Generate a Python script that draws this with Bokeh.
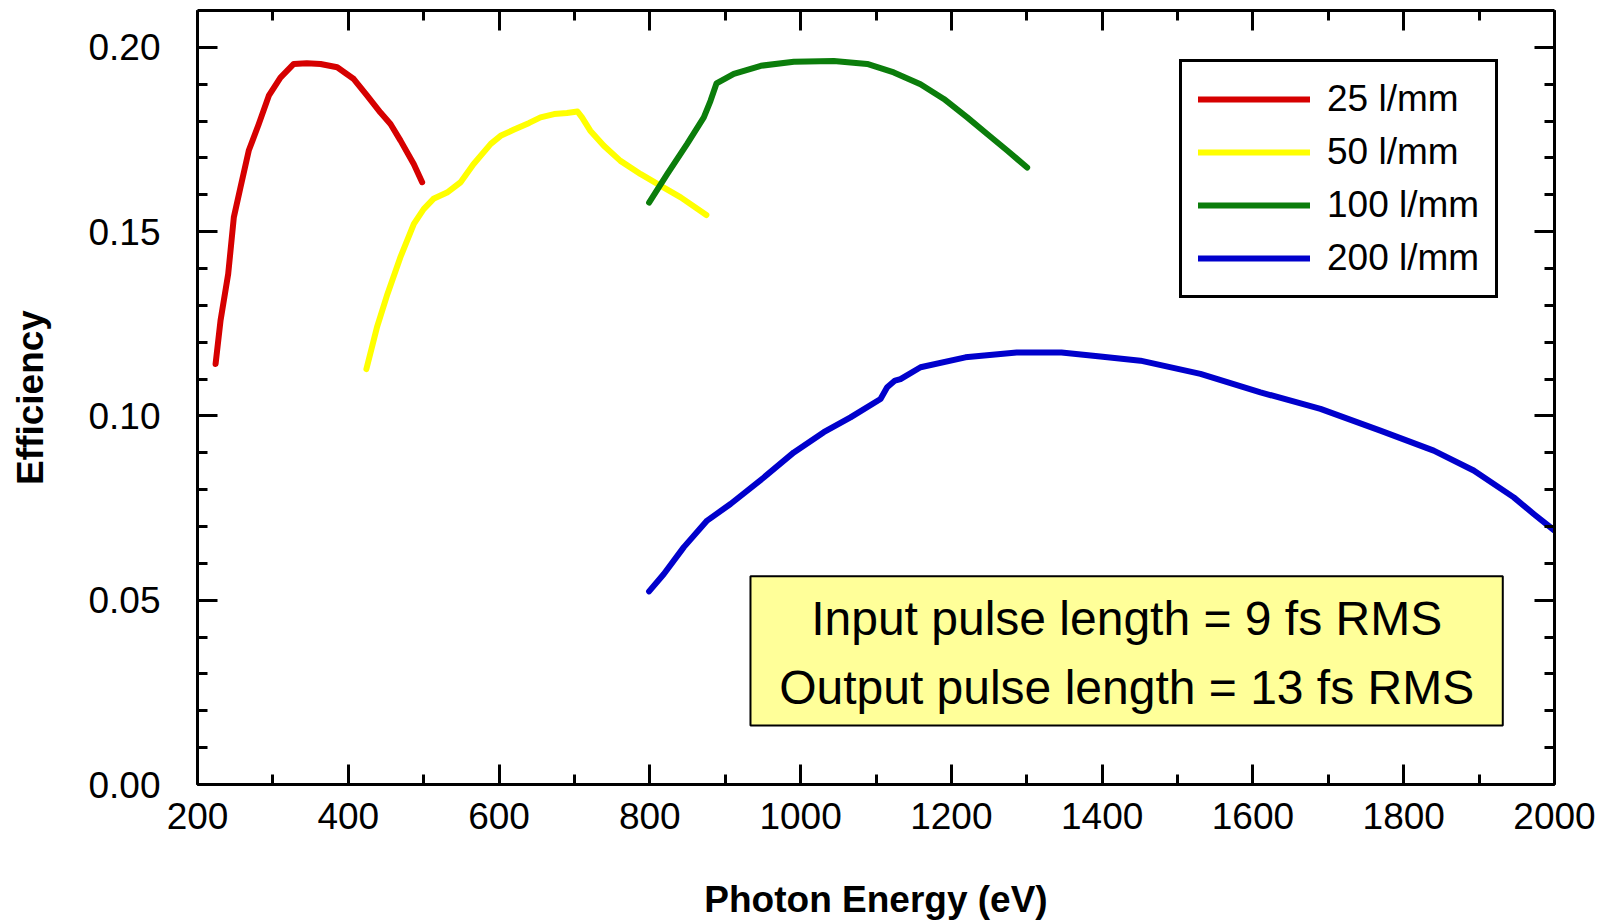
from bokeh.plotting import figure
from bokeh.models import (Range1d, LinearAxis, SingleIntervalTicker, NumeralTickFormatter,
                          Legend, LegendItem, BoxAnnotation, Label, CustomJSTickFormatter)
from bokeh.embed import file_html
from bokeh.resources import INLINE

# ---- data ----
series_names = ["25 l/mm", "50 l/mm", "100 l/mm", "200 l/mm"]
series_colors = ["#d60000", "#ffff00", "#0b7d0b", "#0000cc"]

red_x = [224, 230.5, 240.7, 248.2, 257, 268, 281.3, 294.6, 310, 327.7, 345, 363.2, 385.3,
         407.3, 425, 442.7, 456, 469.3, 487, 498]
red_y = [0.1141, 0.1258, 0.1385, 0.1539, 0.162, 0.172, 0.1792, 0.1869, 0.1918, 0.1955,
         0.1957, 0.1955, 0.1946, 0.1914, 0.1869, 0.1823, 0.1792, 0.1747, 0.1683, 0.1634]

yellow_x = [424, 438, 452, 469, 487, 500, 513, 531, 549, 566, 589, 602, 620, 640, 655, 673,
            690, 704, 710, 721, 739, 761, 788, 814, 841, 875]
yellow_y = [0.1127, 0.124, 0.1331, 0.143, 0.1521, 0.1561, 0.1589, 0.1606, 0.1634, 0.1683,
            0.1738, 0.176, 0.1777, 0.1795, 0.181, 0.1819, 0.1822, 0.1826, 0.181, 0.1774,
            0.1733, 0.1692, 0.1656, 0.1625, 0.1593, 0.1545]

green_x = [799, 823, 849.5, 871.6, 880.5, 888.4, 911.4, 947.2, 991, 1044, 1088.3, 1123.6,
           1159, 1190, 1221, 1247.5, 1274, 1300.5]
green_y = [0.1579, 0.1656, 0.1738, 0.181, 0.1855, 0.1902, 0.1928, 0.195, 0.1961, 0.1963,
           0.1955, 0.1932, 0.19, 0.186, 0.181, 0.1765, 0.172, 0.1674]

blue_x = [799, 818.6, 845.1, 876, 907, 951.2, 991, 1030.7, 1066.2, 1106, 1114.8, 1125.2,
          1132.5, 1159.1, 1218.6, 1286.6, 1346, 1397.6, 1450.8, 1530.4, 1610, 1689.6, 1769,
          1839.8, 1892.8, 1946, 1972.4, 2000]
blue_y = [0.0524, 0.0571, 0.0644, 0.0716, 0.0761, 0.0833, 0.0901, 0.0956, 0.0996, 0.1046,
          0.1078, 0.1096, 0.11, 0.1132, 0.1159, 0.1172, 0.1172, 0.1161, 0.115, 0.1114,
          0.1064, 0.1019, 0.096, 0.0906, 0.0852, 0.0779, 0.0734, 0.0689]

note_lines = ["Input pulse length = 9 fs RMS", "Output pulse length = 13 fs RMS"]
x_label = "Photon Energy (eV)"
y_label = "Efficiency"

FONT = "Liberation Sans"

p = figure(width=1604, height=922, output_backend="svg", toolbar_location=None,
           x_range=Range1d(200, 2000), y_range=Range1d(0, 0.21),
           min_border_left=197, min_border_right=50, min_border_top=10, min_border_bottom=138)
p.grid.visible = False
p.outline_line_color = None
p.background_fill_color = "white"
p.border_fill_color = "white"

xt = SingleIntervalTicker(interval=200, num_minor_ticks=2)
yt = SingleIntervalTicker(interval=0.05, num_minor_ticks=5)

bottom_axis = p.below[0]
left_axis = p.left[0]
bottom_axis.ticker = xt
left_axis.ticker = yt
left_axis.formatter = NumeralTickFormatter(format="0.00")
bottom_axis.axis_label = x_label
left_axis.axis_label = y_label

blank = CustomJSTickFormatter(code="return '';")
top_axis = LinearAxis(ticker=xt, formatter=blank, major_label_standoff=0)
right_axis = LinearAxis(ticker=yt, formatter=blank, major_label_standoff=0)
p.add_layout(top_axis, "above")
p.add_layout(right_axis, "right")

for ax in [bottom_axis, left_axis, top_axis, right_axis]:
    ax.axis_line_width = 3
    ax.axis_line_color = "black"
    ax.major_tick_in = 20
    ax.major_tick_out = 0
    ax.minor_tick_in = 10
    ax.minor_tick_out = 0
    ax.major_tick_line_width = 3
    ax.minor_tick_line_width = 3
    ax.major_tick_line_color = "black"
    ax.minor_tick_line_color = "black"

for ax in [bottom_axis, left_axis]:
    ax.major_label_text_font = FONT
    ax.major_label_text_font_size = "37px"
    ax.major_label_text_color = "black"
    ax.axis_label_text_font = FONT
    ax.axis_label_text_font_style = "bold"
    ax.axis_label_text_font_size = "37px"
    ax.axis_label_text_color = "black"

bottom_axis.major_label_standoff = 18
bottom_axis.axis_label_standoff = 47
left_axis.major_label_standoff = 37
left_axis.axis_label_standoff = 34

renderers = []
for xs, ys, c in zip([red_x, yellow_x, green_x, blue_x], [red_y, yellow_y, green_y, blue_y],
                     series_colors):
    r = p.line(xs, ys, line_color=c, line_width=6, line_join="round", line_cap="round")
    renderers.append(r)

legend = Legend(items=[LegendItem(label=n, renderers=[r]) for n, r in zip(series_names, renderers)],
                location=(982, 486))
legend.label_text_font = FONT
legend.label_text_font_size = "37px"
legend.label_text_color = "black"
legend.glyph_width = 112
legend.glyph_height = 38
legend.label_height = 38
legend.spacing = 11
legend.padding = 16
legend.margin = 0
legend.label_standoff = 17
legend.border_line_color = "black"
legend.border_line_width = 3
legend.border_line_alpha = 1.0
legend.background_fill_color = "white"
legend.background_fill_alpha = 1.0
p.add_layout(legend, "center")

box = BoxAnnotation(left=933.5, right=1931.4, top=0.0565, bottom=0.0160,
                    fill_color="#ffff99", fill_alpha=1.0,
                    line_color="black", line_width=2, line_alpha=1.0)
p.add_layout(box)

for txt, yv in zip(note_lines, [0.0450, 0.0264]):
    p.add_layout(Label(x=1432.5, y=yv, text=txt, text_align="center", text_baseline="middle",
                       text_font=FONT, text_font_size="48px", text_color="black"))

open("out.html", "w").write(file_html(p, INLINE))
